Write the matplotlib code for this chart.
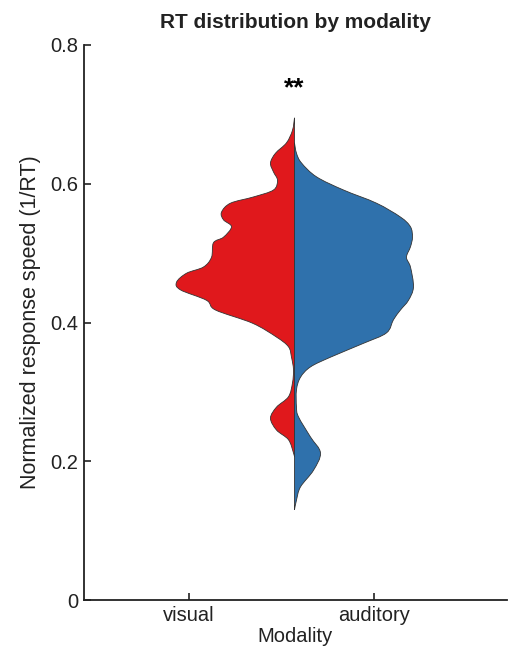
import numpy as np
import matplotlib
matplotlib.use("Agg")
import matplotlib.pyplot as plt
from matplotlib.path import Path
from matplotlib.patches import PathPatch

plt.rcParams["font.family"] = ["Liberation Sans", "DejaVu Sans"]

# density profiles (half-widths, arbitrary units)
visual_y = [0.695, 0.677, 0.659, 0.644, 0.630, 0.617, 0.605, 0.591, 0.581, 0.572,
            0.559, 0.548, 0.538, 0.523, 0.515, 0.494, 0.480, 0.471, 0.458, 0.447,
            0.432, 0.418, 0.399, 0.379, 0.365, 0.350, 0.332, 0.313, 0.293, 0.278,
            0.262, 0.245, 0.231, 0.212, 0.206]
visual_density = [0, 2, 8, 19, 24, 21, 17, 21, 41, 64,
                  73, 71, 63, 71, 81, 83, 91, 108, 118, 114,
                  88, 79, 42, 18, 6, 3, 1, 2, 6, 18,
                  24, 18, 6, 1, 0]

auditory_y = [0.659, 0.644, 0.630, 0.610, 0.591, 0.572, 0.552, 0.538, 0.523, 0.509,
              0.494, 0.480, 0.451, 0.432, 0.418, 0.404, 0.385, 0.370, 0.350, 0.336,
              0.321, 0.303, 0.278, 0.264, 0.235, 0.212, 0.187, 0.163, 0.144, 0.130]
auditory_density = [0, 2, 7, 22, 49, 82, 106, 116, 118, 116,
                    112, 116, 119, 114, 106, 99, 92, 69, 36, 16,
                    6, 2, 2, 4, 16, 26, 19, 6, 2, 0]

categories = ["visual", "auditory"]
yticks = [0, 0.2, 0.4, 0.6, 0.8]
yticklabels = ["0", "0.2", "0.4", "0.6", "0.8"]
signif = "**"
signif_y = 0.738

RED = "#E0181C"
BLUE = "#2F71AC"
CENTER = 1.57
SCALE = 1 / 185.0


def smooth_path(xs, ys):
    """Catmull-Rom through the points, as cubic bezier path vertices."""
    pts = np.column_stack([xs, ys])
    n = len(pts)
    verts = [pts[0]]
    codes = [Path.MOVETO]
    for i in range(n - 1):
        p0 = pts[max(i - 1, 0)]
        p1 = pts[i]
        p2 = pts[i + 1]
        p3 = pts[min(i + 2, n - 1)]
        c1 = p1 + (p2 - p0) / 6.0
        c2 = p2 - (p3 - p1) / 6.0
        verts += [c1, c2, p2]
        codes += [Path.CURVE4] * 3
    # close along the centre line
    verts.append(pts[0])
    codes.append(Path.LINETO)
    verts.append(pts[0])
    codes.append(Path.CLOSEPOLY)
    return Path(np.array(verts), codes)


def half_violin(ax, ys, dens, side, color):
    xs = CENTER + side * np.asarray(dens) * SCALE
    path = smooth_path(xs, ys)
    ax.add_patch(PathPatch(path, facecolor=color, edgecolor="#333333", linewidth=0.6))


fig = plt.figure(figsize=(5.10, 6.57), dpi=100)
ax = fig.add_axes([84 / 510, 1 - 600 / 657, 423 / 510, 555 / 657])

half_violin(ax, visual_y, visual_density, -1, RED)
half_violin(ax, auditory_y, auditory_density, 1, BLUE)

ax.text(CENTER, signif_y, signif, ha="center", va="center", fontsize=19,
        fontweight="bold", color="black")

ax.set_xlim(0.432, 2.719)
ax.set_ylim(0, 0.8)
ax.set_xticks([1, 2])
ax.set_xticklabels(categories)
ax.set_yticks(yticks)
ax.set_yticklabels(yticklabels)
ax.tick_params(direction="in", length=5, width=1.2, labelsize=14.5, pad=4, colors="#222222")
for s in ["top", "right"]:
    ax.spines[s].set_visible(False)
for s in ["left", "bottom"]:
    ax.spines[s].set_linewidth(1.3)
    ax.spines[s].set_color("#222222")

ax.set_xlabel("Modality", fontsize=14.5, labelpad=2, color="#222222")
ax.set_ylabel("Normalized response speed (1/RT)", fontsize=15.5, labelpad=7, color="#222222")
fig.suptitle("RT distribution by modality", x=295 / 510, y=1 - 22 / 657, va="center",
             fontsize=15, fontweight="bold", color="#222222")

fig.savefig("out.png", dpi=100)
